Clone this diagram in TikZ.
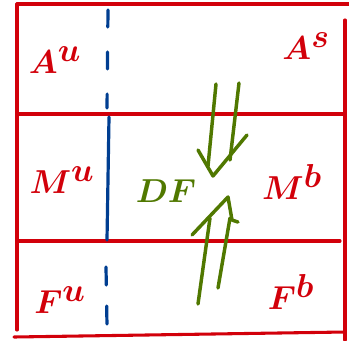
\documentclass[tikz,border=0pt]{standalone}
\usepackage{amsmath,amssymb}
\usepackage{tikz}
\usetikzlibrary{positioning,calc}

\definecolor{pen red}{RGB}{210,0,10}
\definecolor{pen blue}{RGB}{0,62,145}
\definecolor{pen green}{RGB}{80,120,0}

\begin{document}
\begin{tikzpicture}[
    x=0.75pt, y=-0.75pt,
    frame/.style={draw=pen red, line width=2.3pt, line cap=round},
    split/.style={draw=pen blue, line width=2.4pt, line cap=round},
    flow/.style={draw=pen green, line width=2.6pt, line cap=round, line join=round},
    lbl/.style={text=pen red, inner sep=0pt, font=\fontsize{36}{38}\selectfont\boldmath},
    dflbl/.style={text=pen green, inner sep=0pt, font=\fontsize{32}{34}\selectfont\boldmath}
]
\useasboundingbox (0,0) rectangle (349,340);
% frame corners
\coordinate (tl) at (17,4);
\coordinate (tr) at (349,4);
\coordinate (rt) at (345,20);
\coordinate (rb) at (345,340);
\coordinate (bl) at (14,337);
\coordinate (br) at (345,332);
\coordinate (ml) at (17,114);
\coordinate (mr) at (345,114);
\coordinate (fl) at (17,241);
\coordinate (fr) at (340,241);
\coordinate (lb) at (17,330);
\draw[frame] (tl) -- (tr);
\draw[frame] (tl) -- (lb);
\draw[frame] (rt) -- (rb);
\draw[frame] (bl) -- (br);
\draw[frame] (ml) -- (mr);
\draw[frame] (fl) -- (fr);
% blue divide
\coordinate (s1) at (108,10);
\coordinate (s2) at (107,108);
\coordinate (s3) at (109,117);
\coordinate (s4) at (107,240);
\coordinate (s5) at (106,267);
\coordinate (s6) at (107,326);
\draw[split, dash pattern=on 12.75pt off 18.75pt] (s1) -- (s2);
\draw[split] (s3) -- (s4);
\draw[split, dash pattern=on 13.5pt off 15.75pt] (s5) -- (s6);
% labels
\node[lbl] (au) at (55,60) {$A^{u}$};
\node[lbl] (as) at (306,46) {$A^{s}$};
\node[lbl] (mu) at (62,180) {$M^{u}$};
\node[lbl] (mb) at (292,182) {$M^{b}$};
\node[lbl] (fu) at (60,300) {$F^{u}$};
\node[lbl] (fb) at (291,292) {$F^{b}$};
\node[dflbl] (df) at (166,191) {$DF$};
% downward double arrow
\coordinate (d1) at (216,84);
\coordinate (d2) at (208,166);
\coordinate (d3) at (239,83);
\coordinate (d4) at (230,160);
\coordinate (dl) at (198,150);
\coordinate (dt) at (213,176);
\coordinate (dr) at (247,135);
\draw[flow] (d1) -- (d2);
\draw[flow] (d3) -- (d4);
\draw[flow] (dl) -- (dt) -- (dr);
% upward double arrow
\coordinate (u1) at (198,304);
\coordinate (u2) at (210,218);
\coordinate (u3) at (218,288);
\coordinate (u4) at (230,218);
\coordinate (ul) at (192,235);
\coordinate (ut) at (228,197);
\coordinate (ur) at (232,220);
\coordinate (uh) at (238,222);
\draw[flow] (u1) -- (u2);
\draw[flow] (u3) -- (u4);
\draw[flow] (ul) -- (ut) -- (ur) -- (uh);
\end{tikzpicture}
\end{document}
